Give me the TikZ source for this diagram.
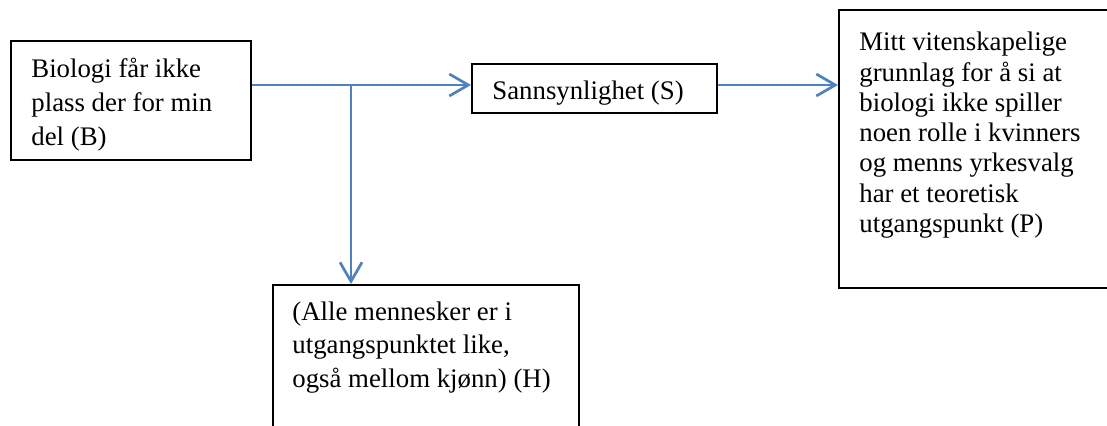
\documentclass[tikz,border=0pt]{standalone}
\usepackage{fontspec}
\setmainfont{Liberation Serif}
\usetikzlibrary{arrows.meta,positioning}
\definecolor{flowblue}{RGB}{79,129,189}
\tikzset{
  box/.style={draw=black,line width=0.9pt,inner sep=0pt,anchor=north west},
  boxtext/.style={inner sep=0pt,anchor=base west,align=left,font=\fontsize{13.4}{#1}\selectfont},
  flow/.style={draw=flowblue,line width=1.35pt,-{Straight Barb[length=9.5pt,width=11pt]}}
}
\begin{document}
\begin{tikzpicture}[x=0.5pt,y=-0.5pt]
    \useasboundingbox (0,0) rectangle (1107,425);
    \clip (0,0) rectangle (1107,425);

    % boxes (text nodes sit on the baseline of their last line)
    \node[box,minimum width=120pt,minimum height=59.5pt] (B) at (10,40) {};
    \node[boxtext=17] (Btext) at (31,145) {Biologi får ikke\\plass der for min\\del (B)};

    \node[box,minimum width=122.5pt,minimum height=24.5pt] (S) at (471,63) {};
    \node[boxtext=17] (Stext) at (492,99) {Sannsynlighet (S)};

    \node[box,minimum width=140pt,minimum height=139pt] (P) at (838,9) {};
    \node[boxtext=15.15] (Ptext) at (859,232.5) {Mitt vitenskapelige\\grunnlag for å si at\\biologi ikke spiller\\noen rolle i kvinners\\og menns yrkesvalg\\har et teoretisk\\utgangspunkt (P)};

    \node[box,minimum width=153pt,minimum height=80pt] (H) at (272,284) {};
    \node[boxtext=16.75] (Htext) at (292,387) {(Alle mennesker er i\\utgangspunktet like,\\også mellom kjønn) (H)};

    % connectors
    \coordinate (fork) at (351,85);
    \draw[flow] (B.east |- fork) -- (S.west |- fork);
    \draw[flow] (fork) -- (fork |- H.north);
    \draw[flow] (S.east |- fork) -- (P.west |- fork);
\end{tikzpicture}
\end{document}
